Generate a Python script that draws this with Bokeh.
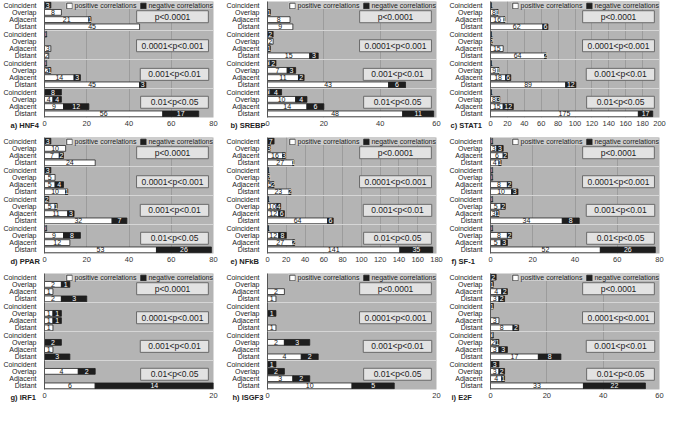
from bokeh.plotting import figure
from bokeh.layouts import gridplot
from bokeh.models import ColumnDataSource, Range1d, FixedTicker, Label, Legend, LegendItem, Span
from bokeh.core.properties import value
from bokeh.embed import file_html
from bokeh.resources import INLINE

FONT = "Liberation Sans"

categories = ["Coincident", "Overlap", "Adjacent", "Distant"]
groups = ["p<0.0001", "0.0001<p<0.001", "0.001<p<0.01", "0.01<p<0.05"]

# 16 values per series: 4 significance groups x (Coincident, Overlap, Adjacent, Distant)
titles = ["a) HNF4", "b) SREBP", "c) STAT1", "d) PPAR", "e) NFkB", "f) SF-1", "g) IRF1", "h) ISGF3", "i) E2F"]

hnf4_pos = [0, 8, 21, 45, 1, 0, 3, 2, 1, 2, 14, 45, 0, 4, 9, 56]
hnf4_neg = [3, 0, 1, 0, 0, 0, 0, 0, 0, 1, 3, 3, 8, 4, 12, 17]

srebp_pos = [0, 0, 8, 9, 0, 2, 0, 15, 1, 7, 11, 43, 1, 10, 14, 48]
srebp_neg = [0, 1, 0, 0, 2, 0, 1, 3, 2, 3, 2, 6, 4, 4, 6, 11]

stat1_pos = [1, 8, 16, 62, 1, 0, 15, 64, 1, 9, 18, 89, 1, 8, 15, 175]
stat1_neg = [0, 1, 1, 6, 0, 2, 0, 2, 0, 1, 6, 12, 0, 3, 12, 17]

ppar_pos = [0, 10, 7, 24, 0, 5, 5, 10, 0, 5, 11, 32, 1, 9, 12, 53]
ppar_neg = [3, 0, 2, 0, 3, 0, 4, 1, 2, 1, 3, 7, 0, 8, 0, 26]

nfkb_pos = [0, 0, 16, 27, 1, 0, 5, 23, 1, 10, 12, 64, 1, 12, 27, 141]
nfkb_neg = [7, 3, 3, 1, 0, 2, 2, 2, 0, 4, 6, 6, 0, 8, 2, 35]

sf1_pos = [1, 3, 6, 4, 1, 1, 8, 10, 1, 5, 3, 34, 1, 8, 5, 52]
sf1_neg = [0, 3, 2, 1, 0, 0, 2, 3, 0, 2, 1, 8, 0, 2, 3, 26]

irf1_pos = [0, 2, 1, 2, 0, 1, 1, 1, 0, 0, 1, 0, 0, 4, 0, 6]
irf1_neg = [0, 1, 0, 3, 0, 1, 1, 0, 0, 2, 0, 3, 0, 2, 0, 14]

isgf3_pos = [0, 0, 2, 1, 0, 0, 0, 1, 0, 2, 0, 4, 0, 0, 3, 10]
isgf3_neg = [0, 0, 0, 0, 0, 1, 0, 0, 0, 3, 0, 2, 1, 2, 2, 5]

e2f_pos = [0, 0, 4, 3, 0, 0, 3, 8, 1, 2, 3, 17, 0, 3, 4, 33]
e2f_neg = [2, 1, 2, 2, 1, 0, 0, 2, 0, 1, 3, 8, 3, 2, 1, 22]

x_max = [80, 60, 200, 80, 180, 80, 20, 20, 60]
x_ticks = [
    [0, 20, 40, 60, 80],
    [0, 20, 40, 60],
    list(range(0, 201, 20)),
    [0, 20, 40, 60, 80],
    list(range(0, 181, 20)),
    [0, 20, 40, 60, 80],
    [0, 20],
    [0, 20],
    [0, 20, 40, 60],
]

pos_series = [hnf4_pos, srebp_pos, stat1_pos, ppar_pos, nfkb_pos, sf1_pos, irf1_pos, isgf3_pos, e2f_pos]
neg_series = [hnf4_neg, srebp_neg, stat1_neg, ppar_neg, nfkb_neg, sf1_neg, irf1_neg, isgf3_neg, e2f_neg]

# layout styling (not data)
W, H = 223, 136
left_borders = [35, 38, 41, 35, 38, 40, 35, 36, 40]
box_pad = [18, 5, 8, 10]
box_w = [72, 72, 68, 68]
box_y = [1.6, 1.6, 1.55, 1.4]

BG = "#b4b4b4"


def make_panel(title, pos, neg, xmax, ticks, lb):
    p = figure(width=W, height=H, x_range=Range1d(0, xmax), y_range=Range1d(15.5, -0.5),
               output_backend="svg", toolbar_location=None,
               min_border_left=lb, min_border_right=10, min_border_top=1, min_border_bottom=19)
    p.background_fill_color = BG
    p.border_fill_color = "white"
    p.outline_line_color = None

    rows = list(range(16))
    ps = ColumnDataSource(dict(y=[r for r in rows if pos[r] > 0],
                               left=[0 for r in rows if pos[r] > 0],
                               right=[pos[r] for r in rows if pos[r] > 0],
                               mid=[pos[r] / 2 for r in rows if pos[r] > 0],
                               lab=[str(pos[r]) for r in rows if pos[r] > 0]))
    ns = ColumnDataSource(dict(y=[r for r in rows if neg[r] > 0],
                               left=[pos[r] for r in rows if neg[r] > 0],
                               right=[pos[r] + neg[r] for r in rows if neg[r] > 0],
                               mid=[pos[r] + neg[r] / 2 for r in rows if neg[r] > 0],
                               lab=[str(neg[r]) for r in rows if neg[r] > 0]))

    rp = p.hbar(y="y", left="left", right="right", height=0.8, source=ps,
                fill_color="white", line_color="#222222", line_width=0.8)
    rn = p.hbar(y="y", left="left", right="right", height=0.8, source=ns,
                fill_color="#1e1e1e", line_color="#1e1e1e", line_width=0.8)
    p.text(x="mid", y="y", text="lab", source=ps, text_align="center", text_baseline="middle",
           text_font=value(FONT), text_font_size="7px", text_color="#111111")
    p.text(x="mid", y="y", text="lab", source=ns, text_align="center", text_baseline="middle",
           text_font=value(FONT), text_font_size="7px", text_color="white")

    for s in [3.5, 7.5, 11.5]:
        p.add_layout(Span(location=s, dimension="width", line_color="#d6d6d6", line_width=1))

    # axes
    xaxis = p.xaxis[0]
    xaxis.ticker = FixedTicker(ticks=ticks)
    p.xgrid.ticker = FixedTicker(ticks=ticks)
    p.xgrid.grid_line_color = "#9c9c9c"
    p.ygrid.grid_line_color = None
    xaxis.axis_line_color = None
    xaxis.major_tick_line_color = None
    xaxis.minor_tick_line_color = None
    xaxis.major_label_text_font = FONT
    xaxis.major_label_text_font_size = "7.5px"
    xaxis.major_label_text_color = "#333333"
    xaxis.major_label_standoff = -12

    p.yaxis.ticker = FixedTicker(ticks=rows)
    p.yaxis.major_label_overrides = {r: categories[r % 4] for r in rows}
    p.yaxis.axis_line_color = "#555555"
    p.yaxis.major_tick_line_color = None
    p.yaxis.minor_tick_line_color = None
    p.yaxis.major_label_text_font = FONT
    p.yaxis.major_label_text_font_size = "7px"
    p.yaxis.major_label_text_color = "#222222"
    p.yaxis.major_label_standoff = 2

    # significance boxes
    for g in range(4):
        p.add_layout(Label(x=xmax, y=4 * g + box_y[g], x_offset=-(5 + box_w[g] / 2),
                           text=groups[g], text_align="center", text_baseline="middle",
                           text_font=FONT, text_font_size="8.5px", text_color="#222222",
                           background_fill_color="#e2e2e2", border_line_color="#6a6a6a",
                           border_line_width=1,
                           padding=dict(left=box_pad[g], right=box_pad[g], top=1, bottom=1)))

    # panel title: lives in the panel just below the frame, on the tick-label line
    title_label = Label(x=0, y=15.5, x_offset=-lb + 1, y_offset=-8, text=title,
                        text_align="left", text_baseline="middle", text_font=FONT,
                        text_font_size="7.5px", text_font_style="bold", text_color="#222222")
    p.below = [title_label, xaxis]

    legend = Legend(items=[LegendItem(label="positive correlations", renderers=[rp]),
                           LegendItem(label="negative correlations", renderers=[rn])],
                    location="top_right", orientation="horizontal", margin=0, padding=2,
                    spacing=3, label_standoff=2, glyph_width=7, glyph_height=7,
                    label_height=8, label_text_font=FONT, label_text_font_size="7px",
                    label_text_color="#222222", background_fill_color="#cdcdcd",
                    background_fill_alpha=1, border_line_color=None)
    p.add_layout(legend)
    return p


panels = [make_panel(titles[i], pos_series[i], neg_series[i], x_max[i], x_ticks[i], left_borders[i])
          for i in range(9)]

grid = gridplot([panels[0:3], panels[3:6], panels[6:9]], toolbar_location=None)

open("out.html", "w").write(file_html(grid, INLINE))
